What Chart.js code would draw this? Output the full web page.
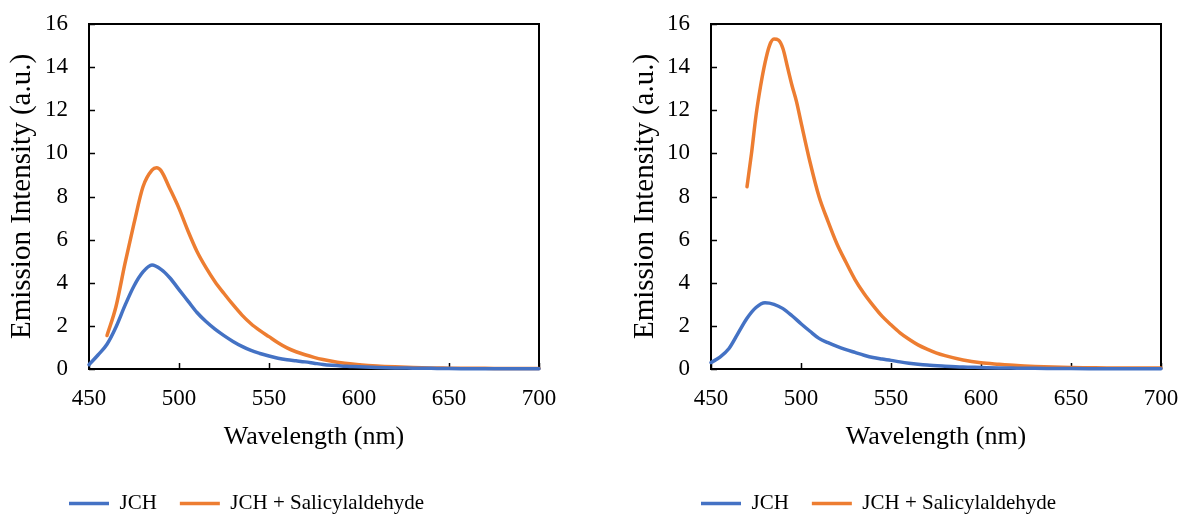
<!DOCTYPE html>
<html>
<head>
<meta charset="utf-8">
<title>Emission spectra</title>
<script src="https://cdn.jsdelivr.net/npm/chart.js@4.4.0/dist/chart.umd.min.js"></script>
<style>
  html, body { margin: 0; padding: 0; background: #fff; }
  #wrap { position: relative; width: 1181px; height: 514px; overflow: hidden; }
  canvas { position: absolute; top: 0; }
</style>
</head>
<body>
<div id="wrap">
  <canvas id="chartLeft" width="558" height="514" style="left:0px"></canvas>
  <canvas id="chartRight" width="558" height="514" style="left:623px"></canvas>
</div>
<script>
// Values (wavelength in nm, intensity in a.u.)
const leftJchX = [450,455,460,465,470,475,480,485,490,495,500,505,510,515,520,525,530,535,540,545,550,555,560,565,570,575,580,585,590,595,600,610,620,630,640,650,660,670,680,690,700];
const leftJchY = [0.2,0.65,1.15,1.95,2.95,3.85,4.5,4.82,4.62,4.22,3.68,3.15,2.62,2.2,1.85,1.55,1.28,1.05,0.86,0.72,0.6,0.5,0.43,0.38,0.33,0.27,0.21,0.17,0.14,0.12,0.1,0.07,0.05,0.04,0.03,0.02,0.015,0.01,0.01,0.01,0.01];

const leftSalX = [460,465,470,475,480,485,487.5,490,495,500,505,510,515,520,525,530,535,540,545,550,555,560,565,570,575,580,585,590,595,600,610,620,630,640,650,660,670,680,690,700];
const leftSalY = [1.55,2.9,4.9,6.75,8.45,9.22,9.33,9.2,8.35,7.45,6.4,5.45,4.7,4.05,3.5,2.98,2.5,2.1,1.78,1.5,1.22,0.98,0.8,0.66,0.54,0.44,0.36,0.29,0.24,0.2,0.14,0.1,0.07,0.05,0.04,0.03,0.03,0.02,0.02,0.02];

const rightJchX = [450,455,460,465,470,475,480,485,490,495,500,505,510,515,520,525,530,535,540,545,550,555,560,565,570,580,590,600,610,620,630,640,650,660,670,680,690,700];
const rightJchY = [0.3,0.55,0.95,1.65,2.35,2.85,3.07,3.0,2.8,2.47,2.1,1.75,1.42,1.22,1.05,0.9,0.77,0.64,0.53,0.46,0.4,0.33,0.27,0.22,0.18,0.13,0.09,0.07,0.05,0.04,0.03,0.025,0.02,0.015,0.01,0.01,0.01,0.01];

const rightSalX = [470,472.5,475,477.5,480,482.5,485,487.5,490,492.5,495,497.5,500,505,510,515,520,525,530,535,540,545,550,555,560,565,570,575,580,590,600,610,620,630,640,650,660,670,680,690,700];
const rightSalY = [8.45,10.0,11.75,13.1,14.2,15.0,15.3,15.25,14.85,14.0,13.15,12.4,11.45,9.6,8.0,6.85,5.8,4.95,4.15,3.5,2.95,2.45,2.05,1.68,1.38,1.12,0.92,0.75,0.62,0.42,0.29,0.22,0.16,0.12,0.09,0.07,0.06,0.05,0.05,0.05,0.05];

const seriesNames = ['JCH', 'JCH + Salicylaldehyde'];
const seriesColors = ['#4472C4', '#ED7D31'];
const xTitle = 'Wavelength (nm)';
const yTitle = 'Emission Intensity (a.u.)';

const serif = "'Liberation Serif', 'Times New Roman', serif";
Chart.defaults.font.family = serif;
Chart.defaults.color = '#000';

const toPoints = (xs, ys) => xs.map((x, i) => ({ x: x, y: ys[i] }));

// Excel-like box frame with inward tick marks, and legend placement
const framePlugin = {
  id: 'frame',
  afterLayout(chart, args, opts) {
    const legend = chart.legend;
    const h = legend.height;
    const w = legend.width;
    legend.left = opts.legendX - legend.options.labels.padding;
    legend.right = legend.left + w;
    legend.top = opts.legendTop;
    legend.bottom = legend.top + h;
  },
  beforeDatasetsDraw(chart) {
    const { ctx, chartArea: a, scales: { x, y } } = chart;
    ctx.save();
    ctx.strokeStyle = '#000';
    ctx.lineWidth = 1.5;
    ctx.beginPath();
    x.ticks.forEach(t => {
      const px = Math.round(x.getPixelForValue(t.value)) + 0.5;
      ctx.moveTo(px, a.bottom);
      ctx.lineTo(px, a.bottom - 6);
    });
    y.ticks.forEach(t => {
      const py = Math.round(y.getPixelForValue(t.value)) + 0.5;
      ctx.moveTo(a.left, py);
      ctx.lineTo(a.left + 6, py);
    });
    ctx.stroke();
    ctx.lineWidth = 2;
    ctx.strokeRect(a.left, a.top, a.right - a.left, a.bottom - a.top);
    ctx.restore();
  }
};

const makeChart = (id, jchX, jchY, salX, salY, place) => {
  const ctx = document.getElementById(id).getContext('2d');
  const lineStyle = (i) => ({
    borderColor: seriesColors[i],
    backgroundColor: seriesColors[i],
    borderWidth: 3.5,
    borderCapStyle: 'round',
    borderJoinStyle: 'round',
    pointRadius: 0,
    cubicInterpolationMode: 'monotone',
    fill: false,
    clip: false
  });
  return new Chart(ctx, {
    type: 'line',
    data: {
      datasets: [
        { label: seriesNames[0], data: toPoints(jchX, jchY), ...lineStyle(0) },
        { label: seriesNames[1], data: toPoints(salX, salY), ...lineStyle(1) }
      ]
    },
    options: {
      responsive: false,
      animation: false,
      devicePixelRatio: 1,
      events: [],
      layout: { padding: { top: 24, right: place.padRight, bottom: 0, left: 0 } },
      scales: {
        x: {
          type: 'linear',
          min: 450,
          max: 700,
          ticks: { stepSize: 50, padding: 16, font: { size: 23 }, color: '#000' },
          grid: { display: false, drawTicks: false },
          border: { display: false },
          title: { display: true, text: xTitle, font: { size: 26 }, color: '#000', padding: { top: 0, bottom: 7 } },
          afterFit: (s) => {
            s.height = 91;
            s.paddingLeft = 0;
            s.paddingRight = 0;
          }
        },
        y: {
          min: 0,
          max: 16,
          ticks: { stepSize: 2, padding: 21, font: { size: 23 }, color: '#000' },
          grid: { display: false, drawTicks: false },
          border: { display: false },
          title: { display: true, text: yTitle, font: { size: 29 }, color: '#000', padding: { top: 5, bottom: 0 } },
          afterFit: (s) => {
            s.width = place.yWidth;
            s.paddingTop = 0;
            s.paddingBottom = 0;
          }
        }
      },
      plugins: {
        tooltip: { enabled: false },
        legend: {
          position: 'bottom',
          align: 'start',
          labels: {
            usePointStyle: true,
            pointStyle: 'line',
            pointStyleWidth: 40,
            padding: 23,
            color: '#000',
            font: { size: 21 }
          }
        },
        frame: { legendX: place.legendX, legendTop: 470 }
      }
    },
    plugins: [framePlugin]
  });
};

makeChart('chartLeft', leftJchX, leftJchY, leftSalX, leftSalY, { yWidth: 89, padRight: 19, legendX: 69 });
makeChart('chartRight', rightJchX, rightJchY, rightSalX, rightSalY, { yWidth: 88, padRight: 20, legendX: 78 });
</script>
</body>
</html>
